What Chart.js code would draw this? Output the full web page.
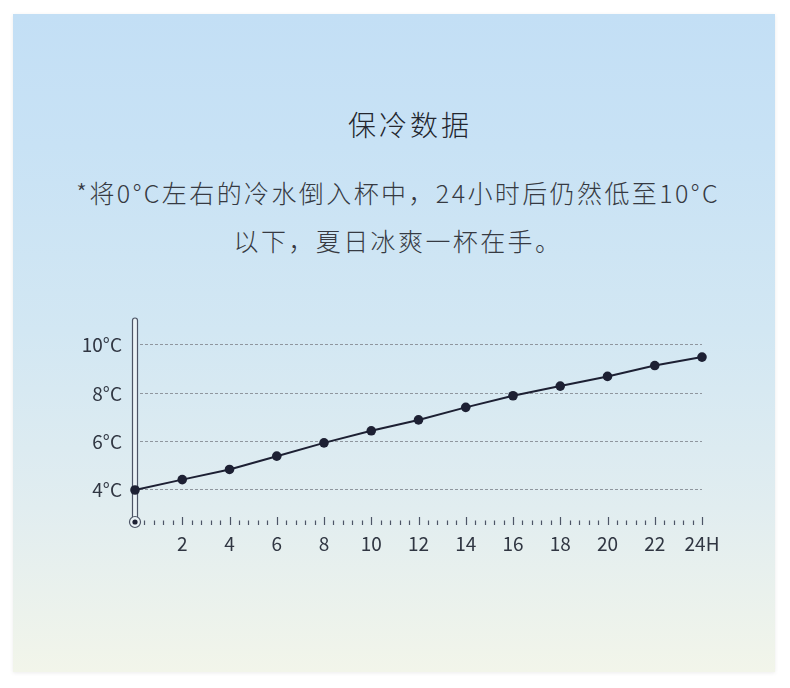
<!DOCTYPE html>
<html>
<head>
<meta charset="utf-8">
<script src="https://cdn.jsdelivr.net/npm/chart.js@4"></script>
<style>
  html, body { margin: 0; padding: 0; background: #ffffff; }
  body { width: 790px; height: 688px; position: relative; overflow: hidden; }
  .panel {
    position: absolute; left: 13px; top: 14px; width: 762px; height: 658px;
    background: linear-gradient(to bottom, #c3dff5 0%, #c8e2f5 20%, #d2e7f3 48%, #e1edf0 75%, #f2f5ea 100%);
    box-shadow: 0 1px 4px rgba(0,0,0,0.08);
  }
  .txt {
    position: absolute; left: 0; width: 790px; text-align: center;
    font-family: "Noto Sans CJK SC", "Noto Sans", sans-serif; font-weight: 300;
  }
  #title { top: 106px; font-size: 28px; line-height: 36px; letter-spacing: 3px; color: #23262e; padding-left: 15px; }
  #sub { top: 168px; font-size: 25px; line-height: 48px; letter-spacing: 2.4px; color: #363a42; padding-left: 3px; }
  #chart { position: absolute; left: 0; top: 0; }
</style>
</head>
<body>
<div class="panel"></div>
<div class="txt" id="title">保冷数据</div>
<div class="txt" id="sub">*将0°C左右的冷水倒入杯中，24小时后仍然低至10°C<br>以下，夏日冰爽一杯在手。</div>
<canvas id="chart" width="790" height="688"></canvas>
<script>
// values
const hours = [0, 2, 4, 6, 8, 10, 12, 14, 16, 18, 20, 22, 24];
const temps = [4.0, 4.43, 4.85, 5.4, 5.95, 6.45, 6.9, 7.42, 7.9, 8.3, 8.7, 9.15, 9.5];
const yTicks = [4, 6, 8, 10];
const xMajorStep = 2;
const xMinorStep = 0.4;

const ink = '#1d2033';
const axisInk = '#4d5566';

// ruler ticks and thermometer drawn from the x scale
const thermometer = {
  id: 'thermometer',
  beforeDatasetsDraw(chart) {
    const { ctx, chartArea, scales } = chart;
    const x0 = scales.x.getPixelForValue(0);
    const base = chartArea.bottom + 1;
    const bulbY = chartArea.bottom - 2;
    ctx.save();
    // ruler ticks
    ctx.strokeStyle = axisInk;
    ctx.lineWidth = 1.2;
    const n = Math.round(24 / xMinorStep);
    for (let i = 1; i <= n; i++) {
      const v = i * xMinorStep;
      const x = Math.round(scales.x.getPixelForValue(v)) + 0.5;
      const major = i % Math.round(xMajorStep / xMinorStep) === 0;
      ctx.beginPath();
      ctx.moveTo(x, base);
      ctx.lineTo(x, base - (major ? 8 : 4.5));
      ctx.stroke();
    }
    // tube
    const w = 5, top = chartArea.top;
    ctx.beginPath();
    ctx.moveTo(x0 - w / 2, bulbY);
    ctx.lineTo(x0 - w / 2, top + w / 2);
    ctx.arc(x0, top + w / 2, w / 2, Math.PI, 0);
    ctx.lineTo(x0 + w / 2, bulbY);
    ctx.closePath();
    ctx.fillStyle = '#eaf2f6';
    ctx.fill();
    ctx.lineWidth = 1.2;
    ctx.strokeStyle = axisInk;
    ctx.stroke();
    // bulb
    ctx.beginPath();
    ctx.arc(x0, bulbY, 5.5, 0, Math.PI * 2);
    ctx.fillStyle = '#eaf2f6';
    ctx.fill();
    ctx.stroke();
    ctx.beginPath();
    ctx.arc(x0, bulbY, 2.6, 0, Math.PI * 2);
    ctx.fillStyle = ink;
    ctx.fill();
    ctx.restore();
  }
};

const labelFont = { family: '"Noto Sans CJK SC", "Noto Sans", sans-serif', size: 19, weight: '400' };

new Chart(document.getElementById('chart'), {
  type: 'line',
  data: {
    datasets: [{
      data: hours.map((h, i) => ({ x: h, y: temps[i] })),
      borderColor: ink,
      borderWidth: 2,
      pointRadius: 4.8,
      pointBackgroundColor: ink,
      pointBorderColor: ink,
      pointBorderWidth: 0,
      tension: 0,
      clip: false,
    }],
  },
  options: {
    responsive: false,
    animation: false,
    layout: { padding: { left: 75, right: 88, top: 318, bottom: 124 } },
    plugins: {
      legend: { display: false },
      title: { display: false },
      tooltip: { enabled: false },
    },
    scales: {
      x: {
        type: 'linear',
        min: 0,
        max: 24,
        border: { display: false },
        grid: { display: false, drawTicks: false },
        ticks: {
          stepSize: xMajorStep,
          padding: 8,
          color: '#303642',
          font: labelFont,
          maxRotation: 0,
          autoSkip: false,
          callback: (v) => (v === 0 ? '' : v === 24 ? '24H' : v),
        },
        afterFit: (s) => { s.height = 40; },
      },
      y: {
        min: 2.593,
        max: 11.117,
        afterBuildTicks: (s) => { s.ticks = yTicks.map((v) => ({ value: v })); },
        afterFit: (s) => { s.width = 60; },
        grid: {
          drawTicks: false,
          color: '#8f969e',
          lineWidth: 1,
        },
        border: { display: false, dash: [3, 2] },
        ticks: {
          padding: 13,
          color: '#303642',
          font: labelFont,
          callback: (v) => v + '°C',
        },
      },
    },
  },
  plugins: [thermometer],
});
</script>
</body>
</html>
